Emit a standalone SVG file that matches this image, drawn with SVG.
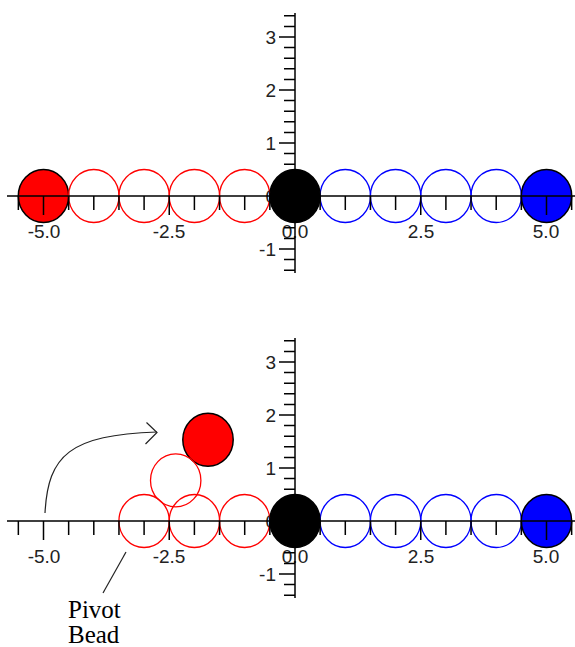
<svg xmlns="http://www.w3.org/2000/svg" xmlns:xlink="http://www.w3.org/1999/xlink" width="575" height="647" viewBox="0 0 575 647">
<style>
.lbl{font-family:"Liberation Sans",Arial,sans-serif;font-size:19px;fill:#222}
.xl{text-anchor:middle}
.yl{text-anchor:end}
.ax{stroke:#000;stroke-width:1.5;fill:none}
.ro{fill:none;stroke:#ff0000;stroke-width:1.3}
.bo{fill:none;stroke:#0000ff;stroke-width:1.3}
.rf{fill:#ff0000;stroke:#000;stroke-width:1.5}
.bf{fill:#0000ff;stroke:#000;stroke-width:1.5}
.kf{fill:#000;stroke:#000;stroke-width:1.5}
.con{fill:none;stroke:#222;stroke-width:1.2}
.note{font-family:"Liberation Serif","Times New Roman",serif;font-size:25px;fill:#000}
</style>
<defs>
<g id="labels">
<text class="lbl xl" x="44" y="238">-5.0</text>
<text class="lbl xl" x="169" y="238">-2.5</text>
<text class="lbl xl" x="295" y="238">0.0</text>
<text class="lbl xl" x="421" y="238">2.5</text>
<text class="lbl xl" x="546" y="238">5.0</text>
<text class="lbl yl" x="276" y="44">3</text>
<text class="lbl yl" x="276" y="97">2</text>
<text class="lbl yl" x="276" y="150">1</text>
<text class="lbl yl" x="276" y="203">0</text>
<text class="lbl yl" x="276" y="256">-1</text>
</g>
<g id="axes">
<path class="ax" d="M7,196H575 M295,13V273"/>
<path class="ax" d="M18.35,196v14 M43.5,196v19 M68.65,196v14 M93.8,196v14 M118.95,196v14 M144.1,196v14 M169.25,196v19 M194.4,196v14 M219.55,196v14 M244.7,196v14 M269.85,196v14 M320.15,196v14 M345.3,196v14 M370.45,196v14 M395.6,196v14 M420.75,196v19 M445.9,196v14 M471.05,196v14 M496.2,196v14 M521.35,196v14 M546.5,196v19 M571.65,196v14"/>
<path class="ax" d="M284,15.8H295 M284,26.4H295 M279,37H295 M284,47.6H295 M284,58.2H295 M284,68.8H295 M284,79.4H295 M279,90H295 M284,100.6H295 M284,111.2H295 M284,121.8H295 M284,132.4H295 M279,143H295 M284,153.6H295 M284,164.2H295 M284,174.8H295 M284,185.4H295 M284,206.6H295 M284,217.2H295 M284,227.8H295 M284,238.4H295 M279,249H295 M284,259.6H295 M284,270.2H295"/>
</g>
</defs>

<g id="labels-top"><use xlink:href="#labels"/></g>
<g id="labels-bottom"><use xlink:href="#labels" y="325"/></g>

<g id="top-chain">
<g id="t-r5"><ellipse class="rf" cx="43.5" cy="196" rx="25.2" ry="26.5"/></g>
<g id="t-r4"><ellipse class="ro" cx="93.8" cy="196" rx="25.2" ry="26.5"/></g>
<g id="t-r3"><ellipse class="ro" cx="144.1" cy="196" rx="25.2" ry="26.5"/></g>
<g id="t-r2"><ellipse class="ro" cx="194.4" cy="196" rx="25.2" ry="26.5"/></g>
<g id="t-r1"><ellipse class="ro" cx="244.7" cy="196" rx="25.2" ry="26.5"/></g>
<g id="t-b1"><ellipse class="bo" cx="345.3" cy="196" rx="25.2" ry="26.5"/></g>
<g id="t-b2"><ellipse class="bo" cx="395.6" cy="196" rx="25.2" ry="26.5"/></g>
<g id="t-b3"><ellipse class="bo" cx="445.9" cy="196" rx="25.2" ry="26.5"/></g>
<g id="t-b4"><ellipse class="bo" cx="496.2" cy="196" rx="25.2" ry="26.5"/></g>
<g id="t-b5"><ellipse class="bf" cx="546.5" cy="196" rx="25.2" ry="26.5"/></g>
<g id="t-k0"><ellipse class="kf" cx="295" cy="196" rx="25.2" ry="26.5"/></g>
</g>

<g id="bottom-chain">
<g id="b-r5"><ellipse class="rf" cx="208" cy="439.8" rx="25.2" ry="26.5"/></g>
<g id="b-r4"><ellipse class="ro" cx="175.7" cy="480.4" rx="25.2" ry="26.5"/></g>
<g id="b-r3"><ellipse class="ro" cx="144.1" cy="521" rx="25.2" ry="26.5"/></g>
<g id="b-r2"><ellipse class="ro" cx="194.4" cy="521" rx="25.2" ry="26.5"/></g>
<g id="b-r1"><ellipse class="ro" cx="244.7" cy="521" rx="25.2" ry="26.5"/></g>
<g id="b-b1"><ellipse class="bo" cx="345.3" cy="521" rx="25.2" ry="26.5"/></g>
<g id="b-b2"><ellipse class="bo" cx="395.6" cy="521" rx="25.2" ry="26.5"/></g>
<g id="b-b3"><ellipse class="bo" cx="445.9" cy="521" rx="25.2" ry="26.5"/></g>
<g id="b-b4"><ellipse class="bo" cx="496.2" cy="521" rx="25.2" ry="26.5"/></g>
<g id="b-b5"><ellipse class="bf" cx="546.5" cy="521" rx="25.2" ry="26.5"/></g>
<g id="b-k0"><ellipse class="kf" cx="295" cy="521" rx="25.2" ry="26.5"/></g>
</g>

<g id="axes-top"><use xlink:href="#axes"/></g>
<g id="axes-bottom"><use xlink:href="#axes" y="325"/></g>

<g id="connectors">
<path class="con" d="M45,513 C48,455 70,435 157,432"/>
<path class="con" d="M146.5,422.5 L157,432.5 L145.5,444"/>
<path class="con" d="M126,552 L103,593"/>
</g>

<g id="pivot-label">
<text class="note" x="68" y="618">Pivot</text>
<text class="note" x="68" y="643">Bead</text>
</g>
</svg>
